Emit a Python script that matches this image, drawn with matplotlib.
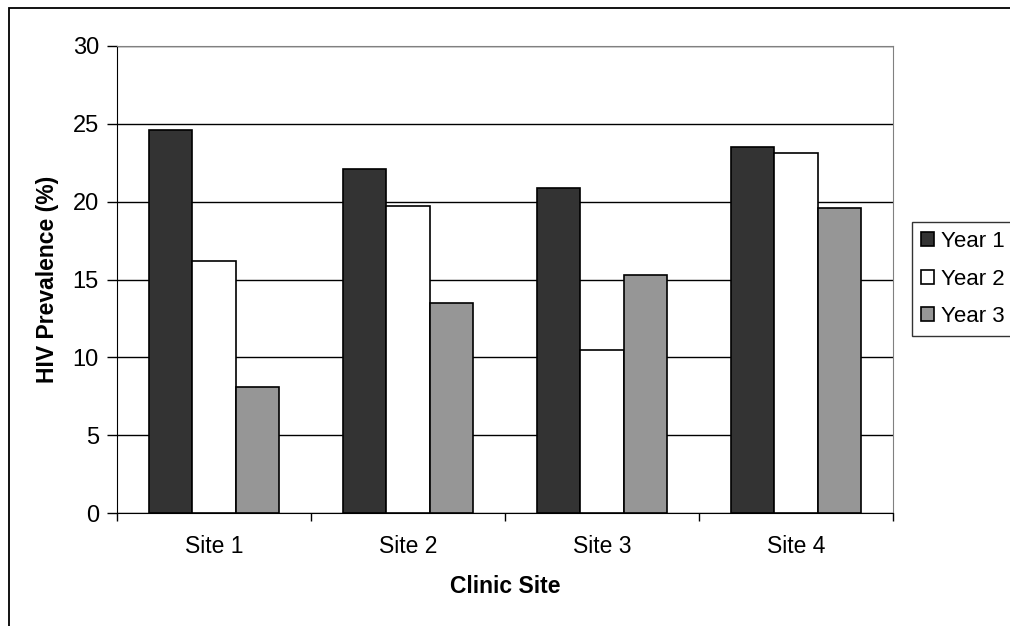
import numpy as np
import matplotlib.pyplot as plt
from matplotlib.patches import Rectangle

plt.rcParams['font.family'] = ['Liberation Sans', 'DejaVu Sans']

sites = ['Site 1', 'Site 2', 'Site 3', 'Site 4']
years = ['Year 1', 'Year 2', 'Year 3']
year1 = [24.6, 22.1, 20.9, 23.5]
year2 = [16.2, 19.7, 10.5, 23.1]
year3 = [8.1, 13.5, 15.3, 19.6]
colors = ['#333333', '#ffffff', '#969696']

W, H = 1010, 626
fig = plt.figure(figsize=(W / 100, H / 100), dpi=100)
ax = fig.add_axes([117 / W, 1 - 513 / H, (893 - 117) / W, (513 - 46) / H])

# outer chart border (cut off at right and bottom like the source)
fig.patches.append(Rectangle((9 / W, -0.05), 1.1, 1 - 8 / H + 0.05,
                             transform=fig.transFigure, fill=False,
                             edgecolor='black', linewidth=1.3))

x = np.arange(len(sites))
bw = 1 / 4.5
for i, (vals, lab) in enumerate(zip([year1, year2, year3], years)):
    ax.bar(x + (i - 1) * bw, vals, width=bw, color=colors[i],
           edgecolor='black', linewidth=1.2, label=lab, zorder=3)

ax.set_xlim(-0.5, len(sites) - 0.5)
ax.set_ylim(0, 30)
ax.set_yticks(range(0, 31, 5))
ax.yaxis.grid(True, color='black', linewidth=1.0, zorder=0)

ax.set_xticks(x)
ax.set_xticklabels(sites)
ax.set_xticks(np.arange(-0.5, len(sites), 1), minor=True)
ax.tick_params(axis='x', which='major', length=0, pad=16, labelsize=16.5)
ax.tick_params(axis='x', which='minor', length=6, width=1, direction='out')
ax.tick_params(axis='y', length=7, width=1, direction='out', pad=6, labelsize=17)

for s in ['top', 'right']:
    ax.spines[s].set_color('#808080')
for s in ['left', 'bottom']:
    ax.spines[s].set_color('black')

ax.set_ylabel('HIV Prevalence (%)', fontsize=16.5, fontweight='bold', labelpad=10)
ax.set_xlabel('Clinic Site', fontsize=16.5, fontweight='bold', labelpad=12)

leg = fig.legend(loc='upper left', bbox_to_anchor=(912 / W, 1 - 222 / H),
                 bbox_transform=fig.transFigure, fontsize=16, frameon=True,
                 fancybox=False, edgecolor='black', handlelength=0.6,
                 handleheight=0.6, handletextpad=0.3, labelspacing=0.75,
                 borderpad=0.4, borderaxespad=0)
leg.get_frame().set_linewidth(1.0)

fig.savefig('out.png', dpi=100)
